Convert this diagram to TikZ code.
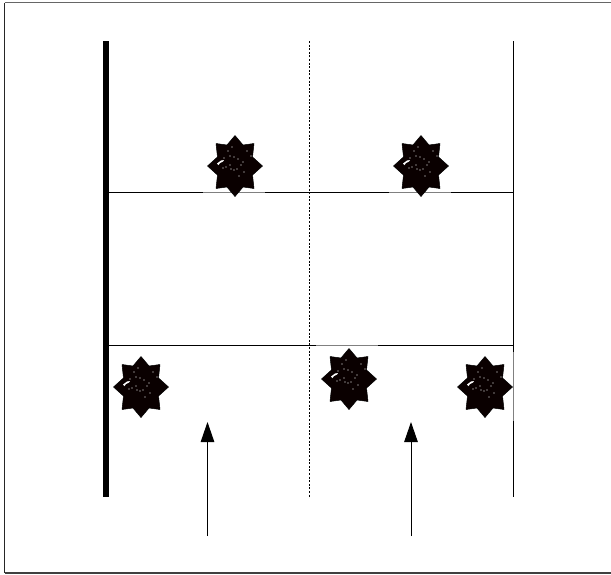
\documentclass[tikz,border=0pt]{standalone}
\usetikzlibrary{arrows.meta}
\tikzset{
  frametop/.style={line width=1.3pt,black!60},
  frameside/.style={line width=1pt,black!85},
  framebase/.style={line width=1.3pt,black!75},
  wall/.style={line width=5.2pt,black},
  partition/.style={line width=0.9pt,black,dash pattern=on 2pt off 1.6pt},
  thinwall/.style={line width=1.1pt,black},
  floorline/.style={line width=1pt,black},
  faded/.style={line width=1pt,black!50},
  flow/.style={line width=1pt,black,-{Triangle[length=20pt,width=13.5pt]}},
  starfill/.style={fill=black!96!red,draw=black,line width=0.5pt,line join=round},
  speck/.style={fill=white,draw=none}
}
\newcommand{\spiky}[1]{%
  \begin{scope}[shift={(#1)}]
    \filldraw[starfill] (0,-30.5) -- (8,-21) -- (19,-22.5) -- (17.5,-9) -- (27.5,0) -- (17.5,9)
      -- (19,22.5) -- (8,21) -- (0,30.5) -- (-8,21) -- (-19,22.5) -- (-17.5,9)
      -- (-27.5,0) -- (-17.5,-9) -- (-19,-22.5) -- (-8,-21) -- cycle;
    \fill[speck] (-18,-2.5) -- (-14,-5.5) -- (-11,-6) -- (-12,-4.5) -- (-15,-3) -- (-16.5,-1) -- cycle;
    \foreach \p in {(-11,-8),(-5,-10),(-1,-9),(3,-7),(-9,1),(-12,2),(-4,3),(-1,4),(2,3),(6,-1),(8,-4),(9,6),(4,10),(-7,-15),(12,-15),(-3,-19),(16,-10),(-5,-1)}
      \fill[speck] \p circle (0.55);
  \end{scope}}
\begin{document}
\begin{tikzpicture}[x=1pt,y=-1pt]
\useasboundingbox (0,0) rectangle (611,574);
\fill[white] (0,0) rectangle (611,574);
\coordinate (fTL) at (4.5,2.5);
\coordinate (fTR) at (611,2.5);
\coordinate (fBL) at (4.5,573);
\coordinate (fBR) at (611,573);
\draw[frametop] (fTR) -- (fTL);
\draw[frameside] (fTL) -- (fBL);
\draw[framebase] (fBL) -- (fBR);
\coordinate (wT) at (106,41);
\coordinate (wB) at (106,497);
\coordinate (pT) at (309.5,41);
\coordinate (pB) at (309.5,497);
\coordinate (rT) at (513.8,41);
\coordinate (rB) at (513.8,497);
\coordinate (u1) at (106,192.5);
\coordinate (u2) at (514,192.5);
\coordinate (l1) at (106,345.5);
\coordinate (l2) at (514,345.5);
\draw[floorline] (u1) -- (u2);
\draw[floorline] (l1) -- (l2);
\draw[wall] (wT) -- (wB);
\draw[partition] (pT) -- (pB);
\draw[thinwall] (rT) -- (rB);
\coordinate (g1) at (203,192.5);
\coordinate (g2) at (265,192.5);
\coordinate (g3) at (389,192.5);
\coordinate (g4) at (451,192.5);
\coordinate (g5) at (316,345.5);
\coordinate (g6) at (378,345.5);
\coordinate (g7) at (513.8,352);
\coordinate (g8) at (513.8,421);
\draw[faded] (g1) -- (g2);
\draw[faded] (g3) -- (g4);
\draw[faded] (g5) -- (g6);
\draw[faded] (g7) -- (g8);
\coordinate (a1s) at (207.5,536);
\coordinate (a1e) at (207.5,422);
\coordinate (a2s) at (411,536);
\coordinate (a2e) at (411,422);
\draw[flow] (a1s) -- (a1e);
\draw[flow] (a2s) -- (a2e);
\spiky{235,166}
\spiky{421,166}
\spiky{141,387}
\spiky{349,379}
\spiky{485,387}
\end{tikzpicture}
\end{document}
